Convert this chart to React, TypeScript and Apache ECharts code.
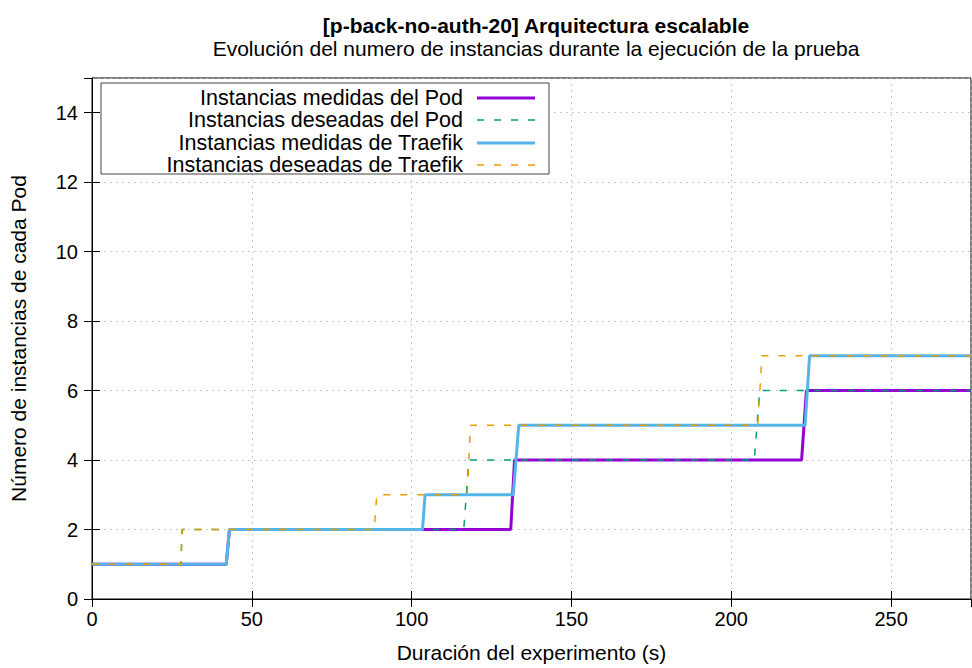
import React, { useEffect, useRef } from "react";
import * as echarts from "echarts";

const titleText = "[p-back-no-auth-20] Arquitectura escalable";
const subtitleText = "Evolución del numero de instancias durante la ejecución de la prueba";
const xAxisName = "Duración del experimento (s)";
const yAxisName = "Número de instancias de cada Pod";

const seriesNames = [
  "Instancias medidas del Pod",
  "Instancias deseadas del Pod",
  "Instancias medidas de Traefik",
  "Instancias deseadas de Traefik",
];

const podMeasuredX = [0, 42, 43, 131, 132.2, 222, 223.5, 275];
const podMeasuredY = [1, 1, 2, 2, 4, 4, 6, 6];
const podDesiredX = [0, 27.8, 28.2, 116.3, 117.9, 207.2, 208.9, 275];
const podDesiredY = [1, 1, 2, 2, 4, 4, 6, 6];
const traefikMeasuredX = [0, 42, 43, 103.4, 104.2, 131.8, 133.5, 223.1, 224.5, 275];
const traefikMeasuredY = [1, 1, 2, 2, 3, 3, 5, 5, 7, 7];
const traefikDesiredX = [0, 27.8, 28.2, 88.3, 89.1, 117.4, 118.4, 208.3, 209.6, 275];
const traefikDesiredY = [1, 1, 2, 2, 3, 3, 5, 5, 7, 7];

const colors = ["#9400D3", "#009E73", "#56B4E9", "#E69F00"];
const FONT = "Liberation Sans";

const zip = (xs: number[], ys: number[]) => xs.map((x, i) => [x, ys[i]]);

export default function App() {
  const ref = useRef<HTMLDivElement>(null);
  useEffect(() => {
    if (!ref.current) return;
    const chart = echarts.init(ref.current, null, { renderer: "svg" });
    const L = 91, R = 971, T = 78, B = 604;
    const TXT = 21;
    const TICK = 20;
    const dash = [7, 10];
    const lineStyles = [
      { width: 3, type: "solid" },
      { width: 1.5, type: dash },
      { width: 3, type: "solid" },
      { width: 1.5, type: dash },
    ];
    const datas = [
      zip(podMeasuredX, podMeasuredY),
      zip(podDesiredX, podDesiredY),
      zip(traefikMeasuredX, traefikMeasuredY),
      zip(traefikDesiredX, traefikDesiredY),
    ];
    const legendX0 = 101, legendY0 = 83;
    const rowY = [98, 120, 143, 165];
    const legendGraphics: any[] = [
      {
        type: "rect",
        shape: { x: legendX0, y: legendY0, width: 448, height: 91 },
        style: { fill: "#fff", stroke: "#444", lineWidth: 1 },
        z: 100,
      },
    ];
    seriesNames.forEach((n, i) => {
      legendGraphics.push({
        type: "text",
        x: 463,
        y: rowY[i],
        style: {
          text: n,
          fill: "#000",
          font: `${TXT}.5px "${FONT}"`,
          align: "right",
          verticalAlign: "middle",
        },
        z: 101,
      });
      legendGraphics.push({
        type: "line",
        shape: { x1: 477, y1: rowY[i], x2: 535, y2: rowY[i] },
        style: {
          stroke: colors[i],
          lineWidth: lineStyles[i].width,
          lineDash: i % 2 === 1 ? dash : null,
        },
        z: 101,
      });
    });

    chart.setOption({
      animation: false,
      backgroundColor: "#fff",
      textStyle: { fontFamily: FONT },
      title: [
        {
          text: titleText,
          left: (L + R) / 2,
          top: 10,
          textAlign: "center",
          textStyle: { fontSize: TXT, fontWeight: "bold", color: "#000", fontFamily: FONT },
        },
        {
          text: subtitleText,
          left: (L + R) / 2,
          top: 33,
          textAlign: "center",
          textStyle: { fontSize: TXT, fontWeight: "normal", color: "#000", fontFamily: FONT },
        },
      ],
      grid: {
        left: L,
        right: 972 - R,
        top: T,
        bottom: 668 - B,
        show: true,
        borderColor: "#000",
        borderWidth: 1,
        backgroundColor: "transparent",
      },
      xAxis: [
        {
          type: "value",
          min: 0,
          max: 275,
          interval: 50,
          name: xAxisName,
          nameLocation: "middle",
          nameGap: 43,
          nameTextStyle: { fontSize: TXT, color: "#000", fontFamily: FONT },
          axisLine: { show: true, lineStyle: { color: "#000" } },
          axisTick: { show: true, inside: true, length: 8, lineStyle: { color: "#000" } },
          axisLabel: { fontSize: TICK, color: "#000", margin: 10, fontFamily: FONT, showMaxLabel: false },
          splitLine: { show: true, lineStyle: { color: "#bbb", type: [1.5, 4.5], width: 1 } },
        },
        {
          type: "value",
          position: "top",
          min: 0,
          max: 275,
          interval: 50,
          axisLine: { show: true, lineStyle: { color: "#000" } },
          axisTick: { show: true, inside: true, length: 8, lineStyle: { color: "#000" } },
          axisLabel: { show: false },
          splitLine: { show: false },
        },
      ],
      yAxis: [
        {
          type: "value",
          min: 0,
          max: 15,
          interval: 2,
          name: yAxisName,
          nameLocation: "middle",
          nameGap: 63,
          nameRotate: 90,
          nameTextStyle: { fontSize: TXT, color: "#000", fontFamily: FONT },
          axisLine: { show: true, lineStyle: { color: "#000" } },
          axisTick: { show: true, inside: true, length: 8, lineStyle: { color: "#000" } },
          axisLabel: { fontSize: TICK, color: "#000", margin: 14, fontFamily: FONT, showMaxLabel: false },
          splitLine: { show: true, lineStyle: { color: "#bbb", type: [1.5, 4.5], width: 1 } },
        },
        {
          type: "value",
          position: "right",
          min: 0,
          max: 15,
          interval: 2,
          axisLine: { show: true, lineStyle: { color: "#000" } },
          axisTick: { show: true, inside: true, length: 8, lineStyle: { color: "#000" } },
          axisLabel: { show: false },
          splitLine: { show: false },
        },
      ],
      series: seriesNames.map((name, i) => ({
        name,
        type: "line",
        xAxisIndex: 0,
        yAxisIndex: 0,
        data: datas[i],
        showSymbol: false,
        symbol: "none",
        lineStyle: { color: colors[i], width: lineStyles[i].width, type: lineStyles[i].type },
        itemStyle: { color: colors[i] },
        z: 2 + i,
      })),
      graphic: legendGraphics,
    });
    return () => chart.dispose();
  }, []);
  return (
    <div
      ref={ref}
      style={{ position: "fixed", left: 0, top: 0, width: 972, height: 668 }}
    />
  );
}
